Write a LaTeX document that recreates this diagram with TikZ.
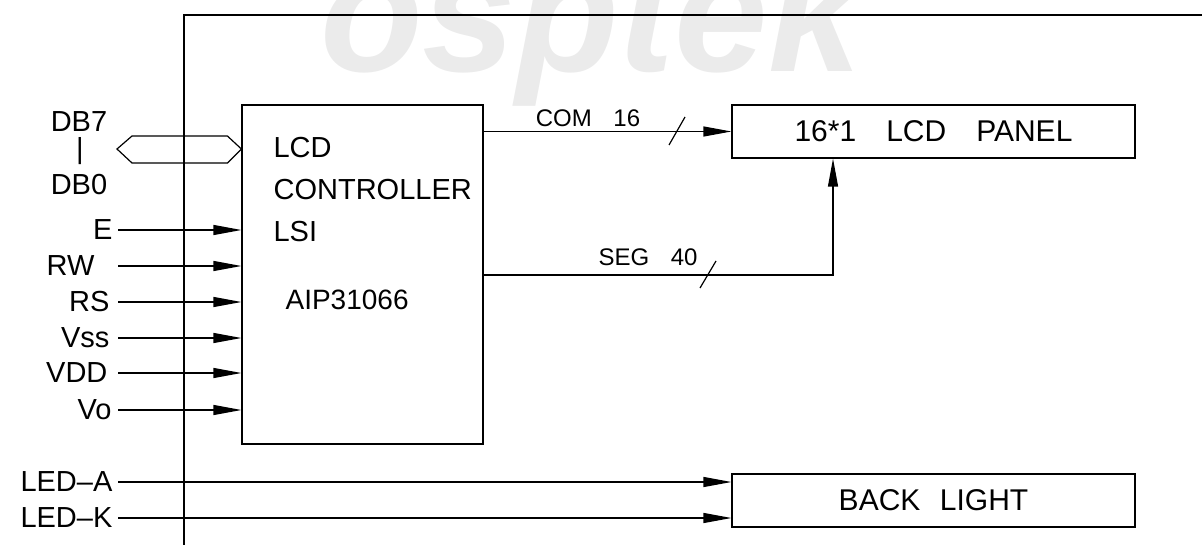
\documentclass[tikz,border=0pt]{standalone}
\usepackage{fontspec}
\setmainfont{Liberation Sans}
\usetikzlibrary{arrows.meta,positioning,calc}

\begin{document}
\begin{tikzpicture}[x=0.5pt, y=-0.5pt, line width=0.6pt,
    sig/.style={-{Triangle[length=14pt,width=5pt]}},
    blk/.style={draw, inner sep=0pt, font=\fontsize{15}{17}\selectfont},
    pin/.style={inner sep=0pt, font=\fontsize{14.5}{16}\selectfont},
    bus/.style={inner sep=0pt, font=\fontsize{12}{14}\selectfont}]
    \clip (0,0) rectangle (1202,545);
    % watermark and frame
    \node[text=black!8, anchor=base, font=\fontsize{84}{84}\selectfont\bfseries\itshape] at (591,72) {osptek};
    \draw (1202,15) -- (184,15) -- (184,545);
    % blocks
    \node[blk, minimum width=120.5pt, minimum height=169.5pt] (ctrl) at (362.5,274.5) {};
    \node[blk, minimum width=201.5pt, minimum height=26.5pt] (panel) at (933.5,131.5) {16*1\quad LCD\quad PANEL};
    \node[blk, minimum width=201.5pt, minimum height=26.5pt] (blight) at (933.5,500.5) {BACK\hspace{0.65em}LIGHT};
    \node[pin, anchor=north west, align=left, font=\fontsize{14.5}{21}\selectfont] (ctrltxt) at (273,137) {LCD\\CONTROLLER\\LSI};
    \node[pin, anchor=base west, font=\fontsize{14}{16}\selectfont] (chip) at (285,309) {AIP31066};
    % data bus
    \node[pin] (db7) at (79,122) {DB7};
    \node[pin] (dbbar) at (80,151) {|};
    \node[pin] (db0) at (79,185) {DB0};
    \coordinate (busL) at (117,149);
    \coordinate (busR) at (ctrl.west |- busL);
    \draw (busL) -- ++(15,-13) -- ($(busR)+(-14,-13)$) -- (busR) -- ++(-14,14) -- ($(busL)+(15,14)$) -- cycle;
    % control inputs
    \foreach \lbl/\y/\gap in {E/230/2.5pt, RW/266/11.5pt, RS/302/4pt, Vss/338/4pt, VDD/373/5pt, Vo/410/3pt} {
        \coordinate (pin-\lbl) at (118,\y);
        \node[pin, left=\gap of pin-\lbl] {\lbl};
        \draw[sig] (pin-\lbl) -- (pin-\lbl -| ctrl.west);
    }
    % backlight inputs
    \foreach \lbl/\y in {LED--A/482, LED--K/518} {
        \coordinate (pin-\y) at (118,\y);
        \node[pin, left=2.5pt of pin-\y] {\lbl};
        \draw[sig] (pin-\y) -- (pin-\y -| blight.west);
    }
    % outputs to panel
    \draw[sig] (ctrl.east |- panel.west) -- (panel.west);
    \node[bus] (com) at (588,118) {COM\hspace{0.9em}16};
    \draw (677,131) ++(-8,14) -- ++(16,-28);
    \coordinate (segend) at (833,275);
    \draw[sig] (ctrl.east |- segend) -- (segend) -- (segend |- panel.south);
    \node[bus] (seg) at (648,257) {SEG\hspace{0.9em}40};
    \draw (708,275) ++(-8,13) -- ++(16,-27);
\end{tikzpicture}
\end{document}
